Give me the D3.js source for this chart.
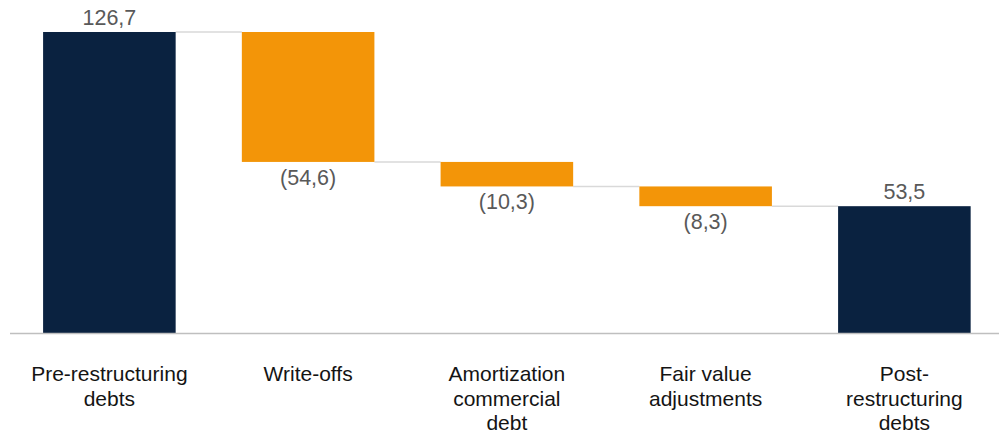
<!DOCTYPE html>
<html>
<head>
<meta charset="utf-8">
<script src="https://cdn.jsdelivr.net/npm/d3@7"></script>
<style>
  html, body { margin: 0; padding: 0; background: #ffffff; }
  svg { display: block; }
  text { font-family: "Liberation Sans", Arial, sans-serif; }
</style>
</head>
<body>
<svg id="chart" width="999" height="436"></svg>
<script>
// Debt bridge: opening balance, reductions, closing balance
const categoryLines = [
  ["Pre-restructuring", "debts"],
  ["Write-offs"],
  ["Amortization", "commercial", "debt"],
  ["Fair value", "adjustments"],
  ["Post-", "restructuring", "debts"]
];
const values = [126.7, -54.6, -10.3, -8.3, 53.5];
const kinds = ["total", "delta", "delta", "delta", "total"];

const width = 999, height = 436;
const baseY = 333.5, topY = 32;

const colors = { total: "#0a2240", delta: "#f39508" };

// running start/end for each step
let running = 0;
const steps = values.map((v, i) => {
  let start, end;
  if (kinds[i] === "total") { start = 0; end = v; running = v; }
  else { start = running; end = running + v; running = end; }
  return { i, value: v, kind: kinds[i], start, end, lines: categoryLines[i] };
});

const svg = d3.select("#chart");

const x = d3.scaleBand()
  .domain(d3.range(values.length))
  .range([10, 1003.75])
  .paddingInner(0.333)
  .paddingOuter(0.1665);

const y = d3.scaleLinear()
  .domain([0, values[0]])
  .range([baseY, topY]);

// connectors between consecutive bars
const connectors = steps.slice(0, -1).map((s, k) => ({ from: s, to: steps[k + 1], level: s.end }));
svg.append("g")
  .selectAll("line")
  .data(connectors)
  .join("line")
  .attr("x1", d => x(d.from.i) + x.bandwidth())
  .attr("x2", d => x(d.to.i))
  .attr("y1", d => y(d.level))
  .attr("y2", d => y(d.level))
  .attr("stroke", "#d9d9d9")
  .attr("stroke-width", 1.5);

// bars
svg.append("g")
  .selectAll("rect")
  .data(steps)
  .join("rect")
  .attr("x", d => x(d.i))
  .attr("width", x.bandwidth())
  .attr("y", d => y(Math.max(d.start, d.end)))
  .attr("height", d => Math.abs(y(d.start) - y(d.end)))
  .attr("fill", d => colors[d.kind]);

// baseline axis
svg.append("line")
  .attr("x1", 10).attr("x2", width)
  .attr("y1", baseY).attr("y2", baseY)
  .attr("stroke", "#bfbfbf")
  .attr("stroke-width", 1.5);

// value labels
const fmt = v => {
  const s = Math.abs(v).toFixed(1).replace(".", ",");
  return v < 0 ? "(" + s + ")" : s;
};
svg.append("g")
  .selectAll("text")
  .data(steps)
  .join("text")
  .attr("x", d => x(d.i) + x.bandwidth() / 2)
  .attr("y", d => d.value >= 0 ? y(Math.max(d.start, d.end)) - 7 : y(Math.min(d.start, d.end)) + 23)
  .attr("text-anchor", "middle")
  .attr("fill", "#595959")
  .attr("font-size", 21.5)
  .text(d => fmt(d.value));

// category labels
const cat = svg.append("g")
  .selectAll("text")
  .data(steps)
  .join("text")
  .attr("x", d => x(d.i) + x.bandwidth() / 2)
  .attr("y", 381)
  .attr("text-anchor", "middle")
  .attr("fill", "#141414")
  .attr("font-size", 21);
cat.selectAll("tspan")
  .data(d => d.lines)
  .join("tspan")
  .attr("x", function () { return d3.select(this.parentNode).attr("x"); })
  .attr("dy", (d, k) => k === 0 ? 0 : 24.5)
  .text(d => d);
</script>
</body>
</html>
